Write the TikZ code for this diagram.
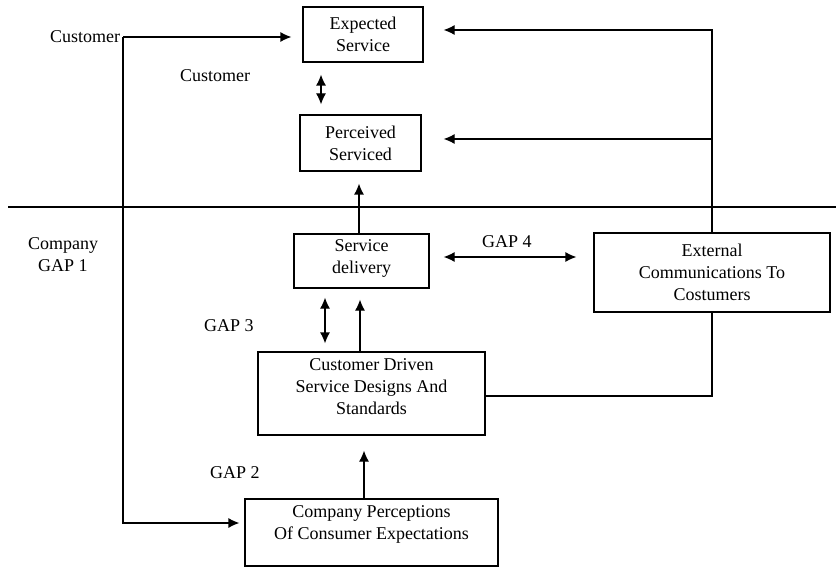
\documentclass[tikz,border=0pt]{standalone}
\usepackage{fontspec}
\setmainfont{Liberation Serif}
\usetikzlibrary{arrows.meta}
\usetikzlibrary{positioning}

\begin{document}
\begin{tikzpicture}[%
        x=1pt, y=-1pt,
        every node/.style={font=\fontsize{18}{22}\selectfont, align=center, inner sep=0pt},
        box/.style={rectangle, draw, line width=1.2pt},
        line width=1.2pt, >={Latex[length=11pt,width=10pt]}
      ]
      \useasboundingbox (0,0) rectangle (836,567);
      \node [box, minimum width=120pt, minimum height=55pt] (0) at (363,34.5) {Expected\\Service};
      \node [box, minimum width=121pt, minimum height=56pt] (1) at (360.5,143) {Perceived\\Serviced};
      \node [box, minimum width=135pt, minimum height=54pt, text depth=9pt] (2) at (361.5,261) {Service\\delivery};
      \node [box, minimum width=236pt, minimum height=79pt] (3) at (712,272.5) {External\\Communications To\\Costumers};
      \node [box, minimum width=227pt, minimum height=83pt, text depth=14pt] (4) at (371.5,393.5) {Customer Driven\\Service Designs And\\Standards};
      \node [box, minimum width=253pt, minimum height=67pt, text depth=20pt] (5) at (371.5,532.5) {Company Perceptions\\Of Consumer Expectations};
      \node [] (6) at (85,37) {Customer};
      \node [] (7) at (215,76) {Customer};
      \node [] (8) at (63,255) {Company\\GAP 1};
      \node [] (9) at (507,242) {GAP 4};
      \node [] (10) at (229,326) {GAP 3};
      \node [] (11) at (235,473) {GAP 2};
      \coordinate (12) at (123,523);
      \coordinate (13) at (8,207);
      \coordinate (14) at (836,207);
      % customer / company divide
      \draw (13) -- (14);
      \draw [->, shorten >=11pt] (12 |- 6.east) -- (6.east -| 0.west);
      \draw [->, shorten >=5pt] (12 |- 6.east) -- (12) -- (12 -| 5.west);
      \draw [<->, shorten <=12pt, shorten >=10pt] ([xshift=-42pt]0.south) -- ([xshift=-42pt]0.south |- 1.north);
      \draw [->, shorten >=20pt] (3.north) |- ([yshift=4.5pt]0.east);
      \draw [->, shorten >=22pt] ([yshift=4pt]1.east -| 3.north) -- ([yshift=4pt]1.east);
      \draw [->, shorten >=12pt] ([xshift=-2.5pt]2.north) -- ([xshift=-2.5pt]2.north |- 1.south);
      \draw [<->, shorten <=14pt, shorten >=17pt] ([yshift=4pt]2.east) -- ([yshift=4pt]2.east -| 3.west);
      \draw [<->, shorten <=9pt, shorten >=8pt] ([xshift=-36.5pt]2.south) -- ([xshift=-36.5pt]2.south |- 4.north);
      \draw [->, shorten >=11pt] ([xshift=-1.5pt]2.south |- 4.north) -- ([xshift=-1.5pt]2.south);
      \draw ([yshift=-2.5pt]4.east) -| (3.south);
      \draw [->, shorten >=15pt] ([xshift=-7.5pt]5.north) -- ([xshift=-7.5pt]5.north |- 4.south);
     \end{tikzpicture}
\end{document}
